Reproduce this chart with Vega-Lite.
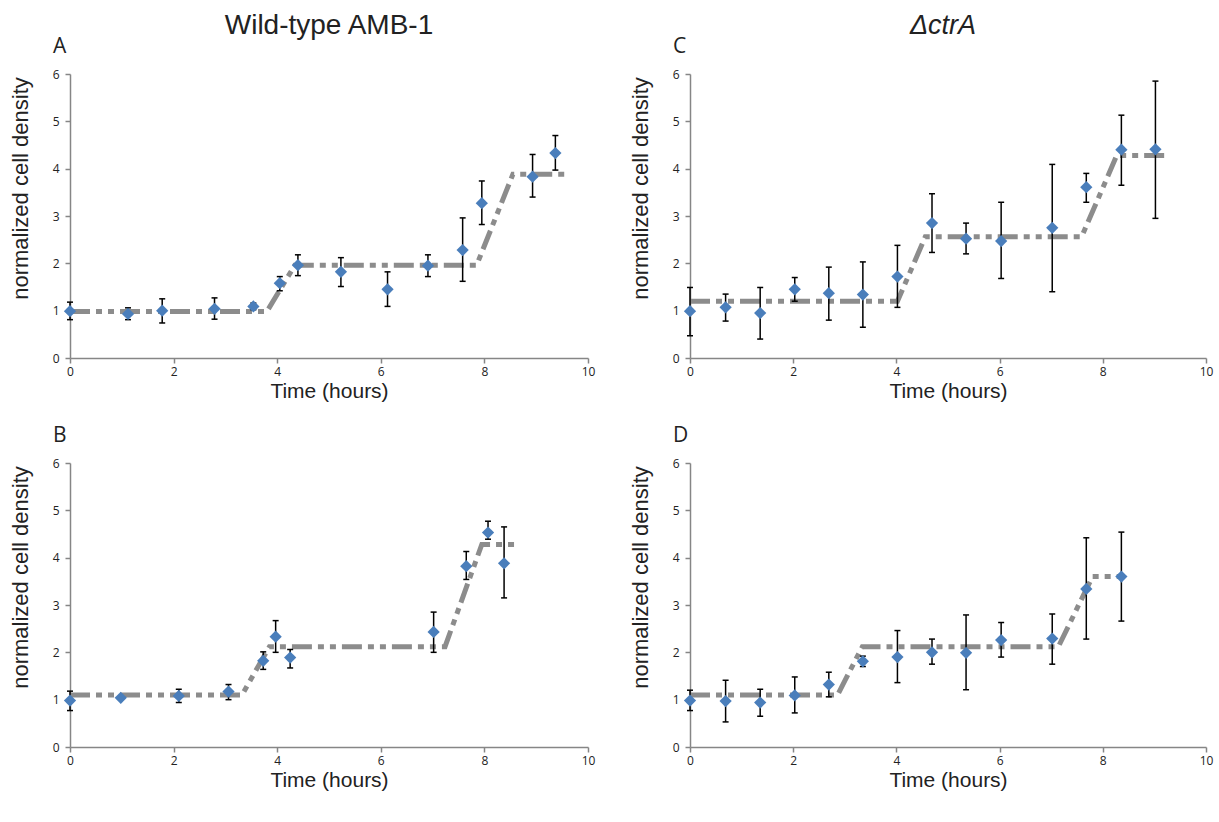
{
  "$schema": "https://vega.github.io/schema/vega-lite/v6.json",
  "background": "white",
  "padding": {"left": 9, "top": 12, "right": 5, "bottom": 5},
  "datasets": {
    "pts": [
      {"panel": "A", "t": 0.0, "y": 0.99, "lo": 0.81, "hi": 1.18},
      {"panel": "A", "t": 1.12, "y": 0.93, "lo": 0.81, "hi": 1.06},
      {"panel": "A", "t": 1.78, "y": 1.0, "lo": 0.74, "hi": 1.25},
      {"panel": "A", "t": 2.79, "y": 1.04, "lo": 0.82, "hi": 1.27},
      {"panel": "A", "t": 3.54, "y": 1.09, "lo": 1.02, "hi": 1.16},
      {"panel": "A", "t": 4.05, "y": 1.58, "lo": 1.42, "hi": 1.72},
      {"panel": "A", "t": 4.4, "y": 1.96, "lo": 1.74, "hi": 2.18},
      {"panel": "A", "t": 5.23, "y": 1.82, "lo": 1.51, "hi": 2.12},
      {"panel": "A", "t": 6.13, "y": 1.45, "lo": 1.09, "hi": 1.82},
      {"panel": "A", "t": 6.91, "y": 1.95, "lo": 1.72, "hi": 2.18},
      {"panel": "A", "t": 7.58, "y": 2.28, "lo": 1.62, "hi": 2.96},
      {"panel": "A", "t": 7.95, "y": 3.27, "lo": 2.82, "hi": 3.74},
      {"panel": "A", "t": 8.93, "y": 3.83, "lo": 3.4, "hi": 4.3},
      {"panel": "A", "t": 9.37, "y": 4.33, "lo": 3.97, "hi": 4.7},
      {"panel": "B", "t": 0.0, "y": 0.98, "lo": 0.77, "hi": 1.18},
      {"panel": "B", "t": 0.98, "y": 1.04, "lo": 1.02, "hi": 1.06},
      {"panel": "B", "t": 2.1, "y": 1.08, "lo": 0.94, "hi": 1.22},
      {"panel": "B", "t": 3.06, "y": 1.17, "lo": 1.0, "hi": 1.32},
      {"panel": "B", "t": 3.73, "y": 1.82, "lo": 1.64, "hi": 2.01},
      {"panel": "B", "t": 3.97, "y": 2.33, "lo": 2.0, "hi": 2.67},
      {"panel": "B", "t": 4.25, "y": 1.89, "lo": 1.67, "hi": 2.06},
      {"panel": "B", "t": 7.02, "y": 2.43, "lo": 2.0, "hi": 2.85},
      {"panel": "B", "t": 7.65, "y": 3.82, "lo": 3.54, "hi": 4.13},
      {"panel": "B", "t": 8.07, "y": 4.53, "lo": 4.39, "hi": 4.77},
      {"panel": "B", "t": 8.38, "y": 3.88, "lo": 3.15, "hi": 4.65},
      {"panel": "C", "t": 0.0, "y": 0.99, "lo": 0.47, "hi": 1.49},
      {"panel": "C", "t": 0.69, "y": 1.07, "lo": 0.78, "hi": 1.35},
      {"panel": "C", "t": 1.36, "y": 0.95, "lo": 0.4, "hi": 1.49},
      {"panel": "C", "t": 2.03, "y": 1.45, "lo": 1.2, "hi": 1.7},
      {"panel": "C", "t": 2.69, "y": 1.37, "lo": 0.8, "hi": 1.92},
      {"panel": "C", "t": 3.35, "y": 1.34, "lo": 0.65, "hi": 2.03},
      {"panel": "C", "t": 4.02, "y": 1.72, "lo": 1.07, "hi": 2.38},
      {"panel": "C", "t": 4.69, "y": 2.85, "lo": 2.23, "hi": 3.47},
      {"panel": "C", "t": 5.35, "y": 2.52, "lo": 2.2, "hi": 2.85},
      {"panel": "C", "t": 6.03, "y": 2.47, "lo": 1.68, "hi": 3.29},
      {"panel": "C", "t": 7.02, "y": 2.75, "lo": 1.4, "hi": 4.09},
      {"panel": "C", "t": 7.68, "y": 3.61, "lo": 3.29, "hi": 3.9},
      {"panel": "C", "t": 8.36, "y": 4.4, "lo": 3.65, "hi": 5.13},
      {"panel": "C", "t": 9.02, "y": 4.41, "lo": 2.95, "hi": 5.85},
      {"panel": "D", "t": 0.0, "y": 0.98, "lo": 0.77, "hi": 1.2},
      {"panel": "D", "t": 0.69, "y": 0.97, "lo": 0.53, "hi": 1.41},
      {"panel": "D", "t": 1.36, "y": 0.94, "lo": 0.65, "hi": 1.22},
      {"panel": "D", "t": 2.03, "y": 1.09, "lo": 0.72, "hi": 1.48},
      {"panel": "D", "t": 2.69, "y": 1.32, "lo": 1.06, "hi": 1.58},
      {"panel": "D", "t": 3.35, "y": 1.81, "lo": 1.7, "hi": 1.92},
      {"panel": "D", "t": 4.02, "y": 1.9, "lo": 1.36, "hi": 2.46},
      {"panel": "D", "t": 4.69, "y": 2.0, "lo": 1.75, "hi": 2.28},
      {"panel": "D", "t": 5.35, "y": 1.99, "lo": 1.21, "hi": 2.79},
      {"panel": "D", "t": 6.03, "y": 2.26, "lo": 1.9, "hi": 2.63},
      {"panel": "D", "t": 7.02, "y": 2.29, "lo": 1.75, "hi": 2.81},
      {"panel": "D", "t": 7.68, "y": 3.34, "lo": 2.28, "hi": 4.42},
      {"panel": "D", "t": 8.36, "y": 3.6, "lo": 2.66, "hi": 4.54}
    ],
    "fit": [
      {"panel": "A", "t": 0.0, "y": 0.98},
      {"panel": "A", "t": 3.8, "y": 0.98},
      {"panel": "A", "t": 4.34, "y": 1.96},
      {"panel": "A", "t": 7.85, "y": 1.96},
      {"panel": "A", "t": 8.55, "y": 3.88},
      {"panel": "A", "t": 9.55, "y": 3.88},
      {"panel": "B", "t": 0.0, "y": 1.1},
      {"panel": "B", "t": 3.32, "y": 1.1},
      {"panel": "B", "t": 3.85, "y": 2.12},
      {"panel": "B", "t": 7.24, "y": 2.12},
      {"panel": "B", "t": 7.95, "y": 4.28},
      {"panel": "B", "t": 8.66, "y": 4.28},
      {"panel": "C", "t": 0.0, "y": 1.2},
      {"panel": "C", "t": 4.02, "y": 1.2},
      {"panel": "C", "t": 4.56, "y": 2.56},
      {"panel": "C", "t": 7.59, "y": 2.56},
      {"panel": "C", "t": 8.27, "y": 4.28},
      {"panel": "C", "t": 9.3, "y": 4.28},
      {"panel": "D", "t": 0.0, "y": 1.1},
      {"panel": "D", "t": 2.86, "y": 1.1},
      {"panel": "D", "t": 3.34, "y": 2.12},
      {"panel": "D", "t": 7.14, "y": 2.12},
      {"panel": "D", "t": 7.8, "y": 3.6},
      {"panel": "D", "t": 8.39, "y": 3.6}
    ]
  },
  "config": {
    "view": {"stroke": null},
    "axis": {
      "grid": false,
      "domainColor": "#868686",
      "domainWidth": 1.5,
      "tickColor": "#868686",
      "tickWidth": 1.5,
      "tickSize": 5,
      "labelFont": "Open Sans",
      "labelFontSize": 12,
      "labelColor": "#222222",
      "titleFont": "Liberation Sans",
      "titleFontWeight": "normal",
      "titleColor": "#222222"
    },
    "axisX": {"labelPadding": 3, "titleFontSize": 21, "titlePadding": 3, "labelFlush": false},
    "axisY": {"labelPadding": 6, "titleFontSize": 22, "titlePadding": 20, "titleY": 114},
    "title": {"font": "Liberation Sans", "fontWeight": "normal", "color": "#222222"}
  },
  "spacing": 34,
  "hconcat": [
    {
      "title": {"text": "Wild-type AMB-1", "fontSize": 28, "anchor": "middle", "dx": 27, "offset": -4},
      "spacing": 24,
      "vconcat": [
        {
          "title": {"text": "A", "anchor": "start", "frame": "group", "font": "Open Sans", "fontSize": 21, "dx": -17, "offset": 11},
          "width": 518, "height": 284,
          "layer": [
            {"data": {"name": "fit"}, "transform": [{"filter": "datum.panel === 'A'"}],
             "mark": {"type": "line", "color": "#8c8c8c", "strokeWidth": 5, "strokeDash": [20, 6, 6, 6, 6, 6], "strokeCap": "butt"},
             "encoding": {"x": {"field": "t", "type": "quantitative", "scale": {"domain": [0, 10]}, "axis": {"values": [0, 2, 4, 6, 8, 10], "title": "Time (hours)"}},
                          "y": {"field": "y", "type": "quantitative", "scale": {"domain": [0, 6]}, "axis": {"values": [0, 1, 2, 3, 4, 5, 6], "title": "normalized cell density"}}}},
            {"data": {"name": "pts"}, "transform": [{"filter": "datum.panel === 'A'"}],
             "mark": {"type": "rule", "color": "black", "strokeWidth": 1.5},
             "encoding": {"x": {"field": "t", "type": "quantitative"}, "y": {"field": "lo", "type": "quantitative"}, "y2": {"field": "hi"}}},
            {"data": {"name": "pts"}, "transform": [{"filter": "datum.panel === 'A'"}],
             "mark": {"type": "tick", "orient": "horizontal", "color": "black", "size": 6, "thickness": 1.5, "opacity": 1},
             "encoding": {"x": {"field": "t", "type": "quantitative"}, "y": {"field": "lo", "type": "quantitative"}}},
            {"data": {"name": "pts"}, "transform": [{"filter": "datum.panel === 'A'"}],
             "mark": {"type": "tick", "orient": "horizontal", "color": "black", "size": 6, "thickness": 1.5, "opacity": 1},
             "encoding": {"x": {"field": "t", "type": "quantitative"}, "y": {"field": "hi", "type": "quantitative"}}},
            {"data": {"name": "pts"}, "transform": [{"filter": "datum.panel === 'A'"}],
             "mark": {"type": "point", "shape": "diamond", "filled": true, "color": "#4a7ebb", "size": 150, "opacity": 1},
             "encoding": {"x": {"field": "t", "type": "quantitative"}, "y": {"field": "y", "type": "quantitative"}}}
          ]
        },
        {
          "title": {"text": "B", "anchor": "start", "frame": "group", "font": "Open Sans", "fontSize": 21, "dx": -17, "offset": 11},
          "width": 518, "height": 284,
          "layer": [
            {"data": {"name": "fit"}, "transform": [{"filter": "datum.panel === 'B'"}],
             "mark": {"type": "line", "color": "#8c8c8c", "strokeWidth": 5, "strokeDash": [20, 6, 6, 6, 6, 6], "strokeCap": "butt"},
             "encoding": {"x": {"field": "t", "type": "quantitative", "scale": {"domain": [0, 10]}, "axis": {"values": [0, 2, 4, 6, 8, 10], "title": "Time (hours)"}},
                          "y": {"field": "y", "type": "quantitative", "scale": {"domain": [0, 6]}, "axis": {"values": [0, 1, 2, 3, 4, 5, 6], "title": "normalized cell density"}}}},
            {"data": {"name": "pts"}, "transform": [{"filter": "datum.panel === 'B'"}],
             "mark": {"type": "rule", "color": "black", "strokeWidth": 1.5},
             "encoding": {"x": {"field": "t", "type": "quantitative"}, "y": {"field": "lo", "type": "quantitative"}, "y2": {"field": "hi"}}},
            {"data": {"name": "pts"}, "transform": [{"filter": "datum.panel === 'B'"}],
             "mark": {"type": "tick", "orient": "horizontal", "color": "black", "size": 6, "thickness": 1.5, "opacity": 1},
             "encoding": {"x": {"field": "t", "type": "quantitative"}, "y": {"field": "lo", "type": "quantitative"}}},
            {"data": {"name": "pts"}, "transform": [{"filter": "datum.panel === 'B'"}],
             "mark": {"type": "tick", "orient": "horizontal", "color": "black", "size": 6, "thickness": 1.5, "opacity": 1},
             "encoding": {"x": {"field": "t", "type": "quantitative"}, "y": {"field": "hi", "type": "quantitative"}}},
            {"data": {"name": "pts"}, "transform": [{"filter": "datum.panel === 'B'"}],
             "mark": {"type": "point", "shape": "diamond", "filled": true, "color": "#4a7ebb", "size": 150, "opacity": 1},
             "encoding": {"x": {"field": "t", "type": "quantitative"}, "y": {"field": "y", "type": "quantitative"}}}
          ]
        }
      ]
    },
    {
      "title": {"text": "ΔctrA", "fontSize": 27, "fontStyle": "italic", "anchor": "middle", "dx": 22, "offset": -4},
      "spacing": 24,
      "vconcat": [
        {
          "title": {"text": "C", "anchor": "start", "frame": "group", "font": "Open Sans", "fontSize": 21, "dx": -17, "offset": 11},
          "width": 516, "height": 284,
          "layer": [
            {"data": {"name": "fit"}, "transform": [{"filter": "datum.panel === 'C'"}],
             "mark": {"type": "line", "color": "#8c8c8c", "strokeWidth": 5, "strokeDash": [20, 6, 6, 6, 6, 6], "strokeCap": "butt"},
             "encoding": {"x": {"field": "t", "type": "quantitative", "scale": {"domain": [0, 10]}, "axis": {"values": [0, 2, 4, 6, 8, 10], "title": "Time (hours)"}},
                          "y": {"field": "y", "type": "quantitative", "scale": {"domain": [0, 6]}, "axis": {"values": [0, 1, 2, 3, 4, 5, 6], "title": "normalized cell density"}}}},
            {"data": {"name": "pts"}, "transform": [{"filter": "datum.panel === 'C'"}],
             "mark": {"type": "rule", "color": "black", "strokeWidth": 1.5},
             "encoding": {"x": {"field": "t", "type": "quantitative"}, "y": {"field": "lo", "type": "quantitative"}, "y2": {"field": "hi"}}},
            {"data": {"name": "pts"}, "transform": [{"filter": "datum.panel === 'C'"}],
             "mark": {"type": "tick", "orient": "horizontal", "color": "black", "size": 6, "thickness": 1.5, "opacity": 1},
             "encoding": {"x": {"field": "t", "type": "quantitative"}, "y": {"field": "lo", "type": "quantitative"}}},
            {"data": {"name": "pts"}, "transform": [{"filter": "datum.panel === 'C'"}],
             "mark": {"type": "tick", "orient": "horizontal", "color": "black", "size": 6, "thickness": 1.5, "opacity": 1},
             "encoding": {"x": {"field": "t", "type": "quantitative"}, "y": {"field": "hi", "type": "quantitative"}}},
            {"data": {"name": "pts"}, "transform": [{"filter": "datum.panel === 'C'"}],
             "mark": {"type": "point", "shape": "diamond", "filled": true, "color": "#4a7ebb", "size": 150, "opacity": 1},
             "encoding": {"x": {"field": "t", "type": "quantitative"}, "y": {"field": "y", "type": "quantitative"}}}
          ]
        },
        {
          "title": {"text": "D", "anchor": "start", "frame": "group", "font": "Open Sans", "fontSize": 21, "dx": -17, "offset": 11},
          "width": 516, "height": 284,
          "layer": [
            {"data": {"name": "fit"}, "transform": [{"filter": "datum.panel === 'D'"}],
             "mark": {"type": "line", "color": "#8c8c8c", "strokeWidth": 5, "strokeDash": [20, 6, 6, 6, 6, 6], "strokeCap": "butt"},
             "encoding": {"x": {"field": "t", "type": "quantitative", "scale": {"domain": [0, 10]}, "axis": {"values": [0, 2, 4, 6, 8, 10], "title": "Time (hours)"}},
                          "y": {"field": "y", "type": "quantitative", "scale": {"domain": [0, 6]}, "axis": {"values": [0, 1, 2, 3, 4, 5, 6], "title": "normalized cell density"}}}},
            {"data": {"name": "pts"}, "transform": [{"filter": "datum.panel === 'D'"}],
             "mark": {"type": "rule", "color": "black", "strokeWidth": 1.5},
             "encoding": {"x": {"field": "t", "type": "quantitative"}, "y": {"field": "lo", "type": "quantitative"}, "y2": {"field": "hi"}}},
            {"data": {"name": "pts"}, "transform": [{"filter": "datum.panel === 'D'"}],
             "mark": {"type": "tick", "orient": "horizontal", "color": "black", "size": 6, "thickness": 1.5, "opacity": 1},
             "encoding": {"x": {"field": "t", "type": "quantitative"}, "y": {"field": "lo", "type": "quantitative"}}},
            {"data": {"name": "pts"}, "transform": [{"filter": "datum.panel === 'D'"}],
             "mark": {"type": "tick", "orient": "horizontal", "color": "black", "size": 6, "thickness": 1.5, "opacity": 1},
             "encoding": {"x": {"field": "t", "type": "quantitative"}, "y": {"field": "hi", "type": "quantitative"}}},
            {"data": {"name": "pts"}, "transform": [{"filter": "datum.panel === 'D'"}],
             "mark": {"type": "point", "shape": "diamond", "filled": true, "color": "#4a7ebb", "size": 150, "opacity": 1},
             "encoding": {"x": {"field": "t", "type": "quantitative"}, "y": {"field": "y", "type": "quantitative"}}}
          ]
        }
      ]
    }
  ]
}
